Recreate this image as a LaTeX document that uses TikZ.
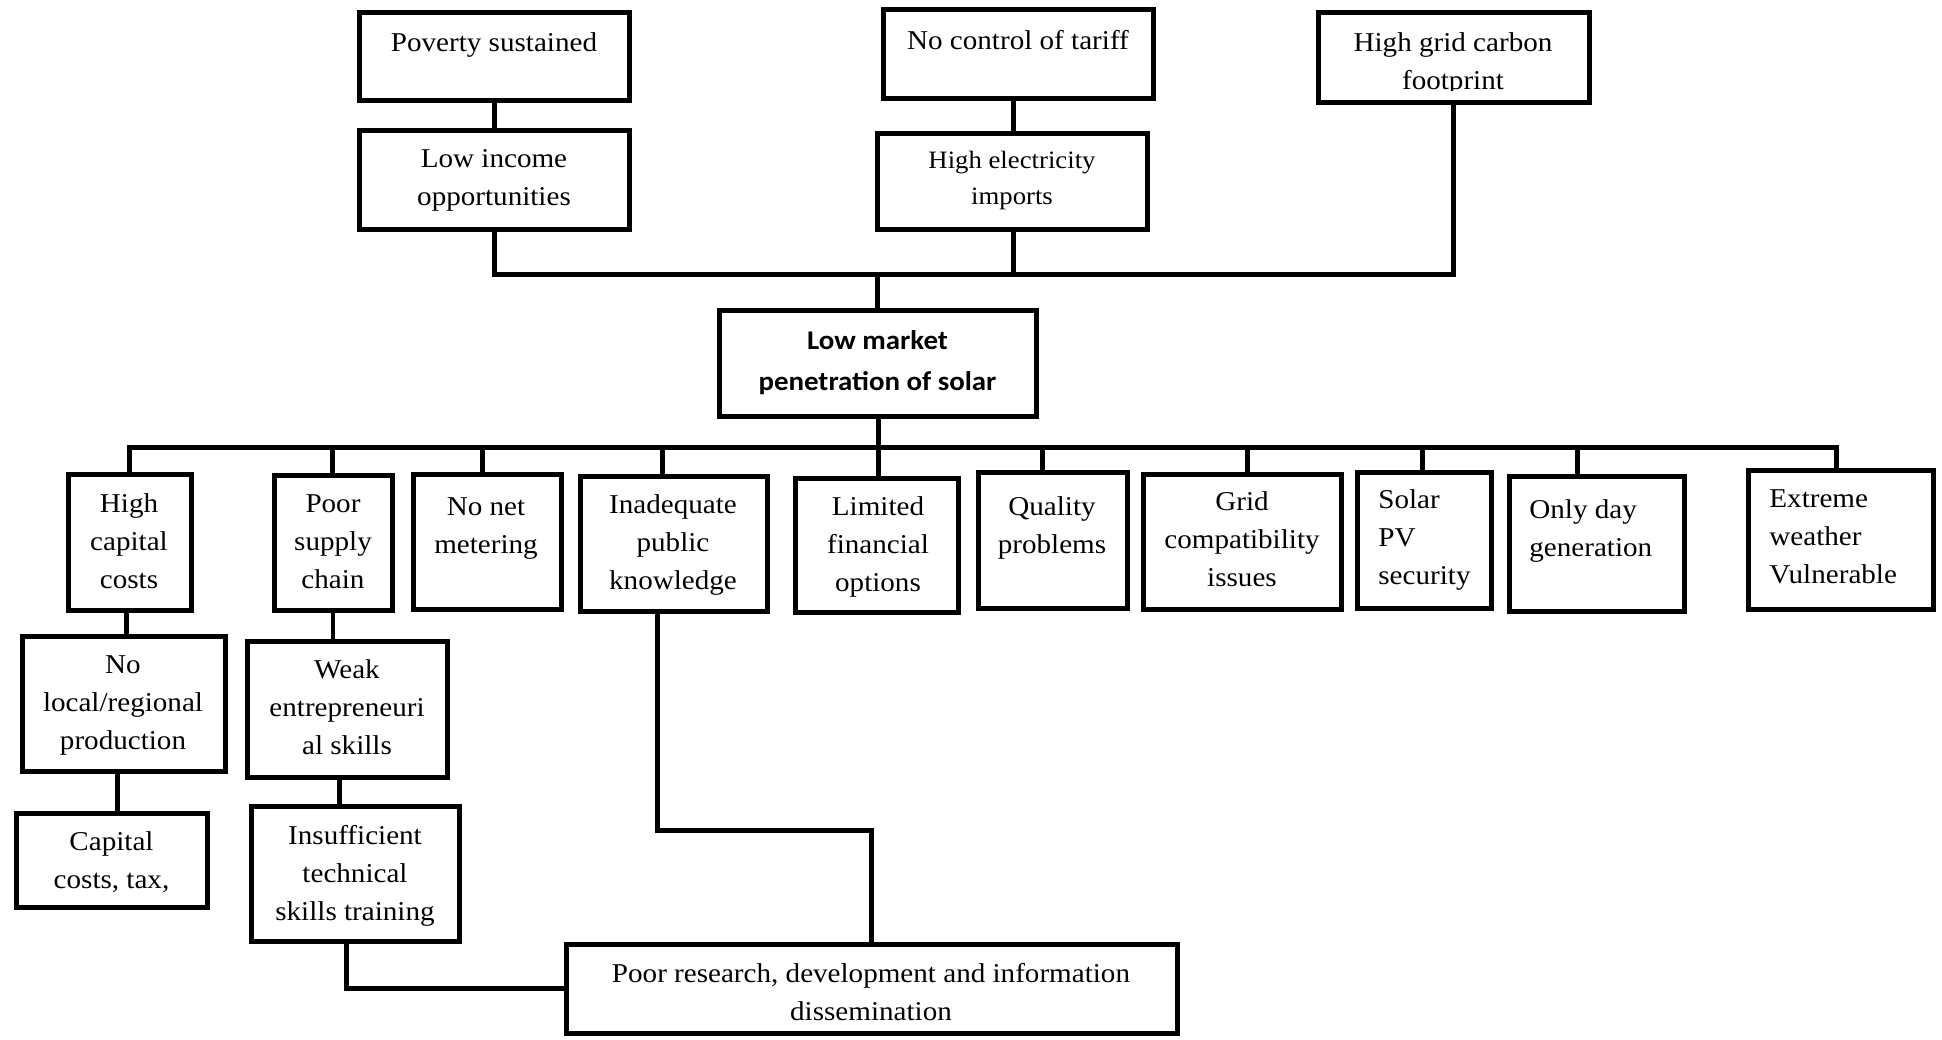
\documentclass[tikz,border=0pt]{standalone}
\usepackage{fontspec}
\setmainfont{Liberation Serif}[FakeStretch=1.07]
\newfontfamily\corefont{Carlito}[FakeStretch=1.07]
\usetikzlibrary{fit}

\tikzset{
  box/.style={draw, rectangle, line width=2.5pt, inner sep=0pt},
  txt/.style={inner sep=0pt, align=center, font=\fontsize{13.6}{19}\selectfont},
  txtl/.style={txt, align=left, anchor=west},
  link/.style={line width=2.5pt},
  thinlink/.style={line width=1.6pt}
}

\begin{document}
\begin{tikzpicture}[x=0.5pt, y=-0.5pt]
\useasboundingbox (0,0) rectangle (1942,1039);

% ---------- effects (top row) ----------
\node[box, fit={(359,12) (629,100)}]   (poverty) {};
\node[box, fit={(359,130) (629,229)}]  (lowinc)  {};
\node[box, fit={(883,9) (1153,98)}]    (tariff)  {};
\node[box, fit={(877,133) (1147,229)}] (imports) {};
\node[box, fit={(1318,12) (1589,102)}] (carbon)  {};

\node[txt] (poverty-t) at (494,43.4)  {\strut Poverty sustained};
\node[txt] (lowinc-t)  at (494,178.4) {\strut Low income\\\strut opportunities};
\node[txt] (tariff-t)  at (1018,41.4) {\strut No control of tariff};
\node[txt, font=\fontsize{12.5}{18}\selectfont] (imports-t) at (1012,178.8)
  {\strut High electricity\\\strut imports};
\begin{scope}
  \clip (1318,12) rectangle (1589,90);
  \node[txt] (carbon-t) at (1453,62.4) {\strut High grid carbon\\\strut footprint};
\end{scope}

% ---------- core problem ----------
\node[box, fit={(719,310) (1036,416)}] (core) {};
\node[txt, font=\corefont\bfseries\fontsize{13.5}{20.5}\selectfont] (core-t) at (877.5,361.3)
  {\strut Low market\\\strut penetration of solar};

% ---------- causes (second row) ----------
\node[box, fit={(68,474) (191,610)}]    (capital)   {};
\node[box, fit={(274,475) (392,610)}]   (supply)    {};
\node[box, fit={(413,474) (561,609)}]   (netmeter)  {};
\node[box, fit={(580,476) (767,611)}]   (knowledge) {};
\node[box, fit={(795,478) (958,612)}]   (finance)   {};
\node[box, fit={(978,472) (1127,608)}]  (quality)   {};
\node[box, fit={(1143,474) (1341,609)}] (gridcomp)  {};
\node[box, fit={(1357,472) (1491,608)}] (security)  {};
\node[box, fit={(1509,476) (1684,611)}] (dayonly)   {};
\node[box, fit={(1748,470) (1933,609)}] (weather)   {};

\node[txt] (capital-t)   at (129,542.4)  {\strut High\\\strut capital\\\strut costs};
\node[txt] (supply-t)    at (333,542.4)  {\strut Poor\\\strut supply\\\strut chain};
\node[txt] (netmeter-t)  at (486,526.4)  {\strut No net\\\strut metering};
\node[txt] (knowledge-t) at (673,543.4)  {\strut Inadequate\\\strut public\\\strut knowledge};
\node[txt] (finance-t)   at (878,545.4)  {\strut Limited\\\strut financial\\\strut options};
\node[txt] (quality-t)   at (1052,526.4) {\strut Quality\\\strut problems};
\node[txt] (gridcomp-t)  at (1242,540.4) {\strut Grid\\\strut compatibility\\\strut issues};
\node[txtl] (security-t) at (1378,538.4) {\strut Solar\\\strut PV\\\strut security};
\node[txtl] (dayonly-t)  at (1529,529.4) {\strut Only day\\\strut generation};
\node[txtl] (weather-t)  at (1769,537.4) {\strut Extreme\\\strut weather\\\strut Vulnerable};

% ---------- deeper causes ----------
\node[box, fit={(22,636) (225,771)}]    (localprod) {};
\node[box, fit={(16,813) (207,907)}]    (captax)    {};
\node[box, fit={(247,641) (447,777)}]   (entrep)    {};
\node[box, fit={(251,806) (459,941)}]   (techskill) {};
\node[box, fit={(566,944) (1177,1033)}] (research)  {};

\node[txt] (localprod-t) at (123,703.4)   {\strut No\\\strut local/regional\\\strut production};
\node[txt] (captax-t)    at (111.5,861.4) {\strut Capital\\\strut costs, tax,};
\node[txt] (entrep-t)    at (347,708.4)   {\strut Weak\\\strut entrepreneuri\\\strut al skills};
\node[txt] (techskill-t) at (355,874.4)   {\strut Insufficient\\\strut technical\\\strut skills training};
\node[txt] (research-t)  at (871,993.4)   {\strut Poor research, development and information\\\strut dissemination};

% ---------- junction points ----------
\coordinate (tL) at (494,274);
\coordinate (tM) at (1013,274);
\coordinate (tC) at (877,274);
\coordinate (tR) at (1453,274);

\coordinate (bL) at (129,447);
\coordinate (bS) at (332,447);
\coordinate (bN) at (482,447);
\coordinate (bK) at (662,447);
\coordinate (bC) at (878,447);
\coordinate (bQ) at (1042,447);
\coordinate (bG) at (1247,447);
\coordinate (bP) at (1422,447);
\coordinate (bD) at (1577,447);
\coordinate (bR) at (1836,447);

\coordinate (c1) at (126,0);
\coordinate (c2) at (117,0);
\coordinate (c3) at (333,0);
\coordinate (c4) at (339,0);
\coordinate (c5) at (346,988);
\coordinate (k1) at (657,830);
\coordinate (k2) at (871,830);

% ---------- connectors: effects ----------
\draw[link] (poverty.south -| tL) -- (lowinc.north -| tL);
\draw[link] (tariff.south -| tM) -- (imports.north -| tM);
\draw[link] (lowinc.south -| tL) -- (tL) -- (tR) -- (carbon.south -| tR);
\draw[link] (imports.south -| tM) -- (tM);
\draw[link] (tC) -- (core.north -| tC);

% ---------- connectors: causes ----------
\draw[link] (capital.north -| bL) -- (bL) -- (bR) -- (weather.north -| bR);
\draw[link] (core.south -| bC) -- (bC) -- (finance.north -| bC);
\draw[link] (bS) -- (supply.north -| bS);
\draw[link] (bN) -- (netmeter.north -| bN);
\draw[link] (bK) -- (knowledge.north -| bK);
\draw[link] (bQ) -- (quality.north -| bQ);
\draw[link] (bG) -- (gridcomp.north -| bG);
\draw[link] (bP) -- (security.north -| bP);
\draw[link] (bD) -- (dayonly.north -| bD);

% ---------- connectors: deeper causes ----------
\draw[link] (capital.south -| c1) -- (localprod.north -| c1);
\draw[link] (localprod.south -| c2) -- (captax.north -| c2);
\draw[thinlink] (supply.south -| c3) -- (entrep.north -| c3);
\draw[link] (entrep.south -| c4) -- (techskill.north -| c4);
\draw[link] (techskill.south -| c5) -- (c5) -- (research.west |- c5);
\draw[link] (knowledge.south -| k1) -- (k1) -- (k2) -- (research.north -| k2);
\end{tikzpicture}
\end{document}
